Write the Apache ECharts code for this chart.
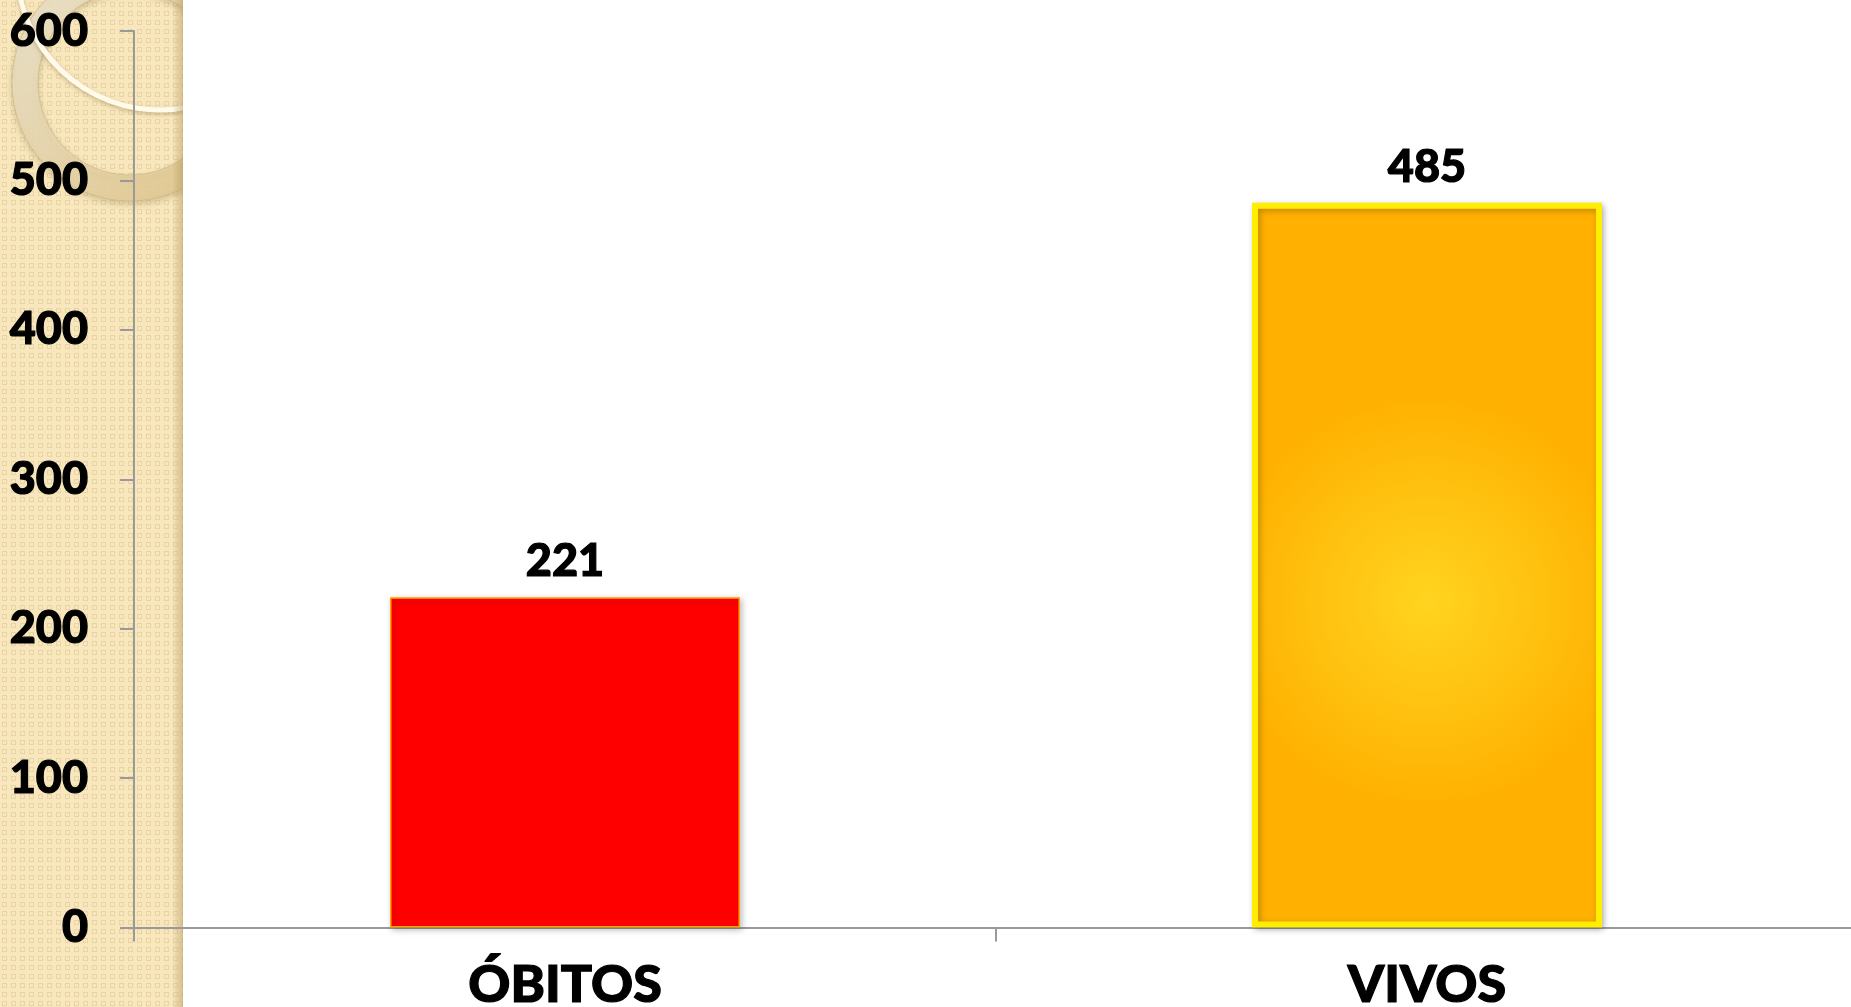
<!DOCTYPE html>
<html>
<head>
<meta charset="utf-8">
<script src="https://cdn.jsdelivr.net/npm/echarts@6/dist/echarts.min.js"></script>
<style>
  html, body { margin: 0; padding: 0; background: #ffffff; overflow: hidden; }
  /* the plot's x axis runs a few pixels past the right edge, so the chart is a bit wider than the window */
  #chart { width: 1860px; height: 1007px; }
</style>
</head>
<body>
<div id="chart"></div>
<script>
// chart values
const categories = ['ÓBITOS', 'VIVOS'];
const values = [221, 485];
const yTicks = [0, 100, 200, 300, 400, 500, 600];

// small tile for the beige side panel texture
function makeTile() {
  const c = document.createElement('canvas');
  c.width = 9;
  c.height = 9;
  const g = c.getContext('2d');
  g.fillStyle = '#f8e7bd';
  g.fillRect(0, 0, 9, 9);
  g.strokeStyle = '#e9d5a4';
  g.lineWidth = 1;
  g.strokeRect(2.5, 2.5, 4, 4);
  return c;
}

const el = document.getElementById('chart');
const chart = echarts.init(el, null, { renderer: 'canvas', width: 1860, height: 1007 });

const barStyles = [
  {
    color: '#ff0000',
    borderColor: '#ffa200',
    borderWidth: 1.5,
    shadowBlur: 6,
    shadowColor: 'rgba(0,0,0,0.25)',
    shadowOffsetX: 2,
    shadowOffsetY: 2
  },
  {
    color: {
      type: 'radial', x: 0.5, y: 0.55, r: 0.6,
      colorStops: [
        { offset: 0, color: '#ffd420' },
        { offset: 1, color: '#ffb000' }
      ]
    },
    borderColor: '#ffee00',
    borderWidth: 6,
    shadowBlur: 6,
    shadowColor: 'rgba(0,0,0,0.25)',
    shadowOffsetX: 2,
    shadowOffsetY: 2
  }
];

// heavy black labels; a thin outline makes Lato closer to the original's bold face
const labelFont = {
  fontFamily: 'Lato, "DejaVu Sans", sans-serif',
  fontWeight: 900,
  color: '#000000',
  textBorderColor: '#000000',
  textBorderWidth: 1.2
};

chart.setOption({
  animation: false,
  backgroundColor: '#ffffff',
  graphic: [
    // textured side panel
    { type: 'rect', z: -10, shape: { x: 0, y: 0, width: 183, height: 1007 },
      style: { fill: { image: makeTile(), repeat: 'repeat' } } },
    // decorative rings
    { type: 'ring', z: -9, shape: { cx: 130, cy: 83, r: 118, r0: 92 },
      style: {
        fill: {
          type: 'linear', x: 0, y: 0, x2: 1, y2: 1,
          colorStops: [
            { offset: 0, color: 'rgba(236,230,212,0.9)' },
            { offset: 1, color: 'rgba(226,198,136,0.8)' }
          ]
        },
        stroke: 'rgba(200,180,130,0.6)', lineWidth: 1,
        shadowBlur: 6, shadowColor: 'rgba(120,90,40,0.3)', shadowOffsetY: 3
      } },
    { type: 'arc', z: -8, shape: { cx: 160, cy: -33, r: 143, startAngle: 1.35, endAngle: 3.1 },
      style: { stroke: '#fffaea', lineWidth: 5, fill: null,
        shadowBlur: 4, shadowColor: 'rgba(120,90,40,0.35)', shadowOffsetY: 2 } },
    // white cover so the decoration stops at the panel edge
    { type: 'rect', z: -7, shape: { x: 183, y: 0, width: 200, height: 300 },
      style: { fill: '#ffffff' } },
    // soft shade on the panel edge
    { type: 'rect', z: -6, shape: { x: 172, y: 0, width: 11, height: 1007 },
      style: {
        fill: {
          type: 'linear', x: 0, y: 0, x2: 1, y2: 0,
          colorStops: [
            { offset: 0, color: 'rgba(170,140,80,0)' },
            { offset: 1, color: 'rgba(170,140,80,0.45)' }
          ]
        }
      } }
  ],
  // fixed plot box; the category labels are allowed to run off the bottom like in the original
  grid: { left: 134, top: 31, width: 1724, height: 896.5, containLabel: false, outerBoundsMode: 'none' },
  xAxis: {
    type: 'category',
    data: categories,
    boundaryGap: true,
    axisLine: { lineStyle: { color: '#9a9a9a', width: 2 } },
    axisTick: { show: true, length: 14, alignWithLabel: false, lineStyle: { color: '#9a9a9a', width: 2 } },
    axisLabel: Object.assign({ fontSize: 52, margin: 32 }, labelFont)
  },
  yAxis: {
    type: 'value',
    min: yTicks[0],
    max: yTicks[yTicks.length - 1],
    interval: yTicks[1] - yTicks[0],
    splitLine: { show: false },
    axisLine: { show: true, lineStyle: { color: '#9a9a9a', width: 2 } },
    axisTick: { show: true, length: 14, lineStyle: { color: '#9a9a9a', width: 2 } },
    axisLabel: Object.assign({ fontSize: 45, margin: 46 }, labelFont)
  },
  series: [{
    type: 'bar',
    barWidth: '40.6%',
    data: values.map((v, i) => ({ value: v, itemStyle: barStyles[i] })),
    label: Object.assign({ show: true, position: 'top', distance: 13, fontSize: 45 }, labelFont)
  }]
});
</script>
</body>
</html>
